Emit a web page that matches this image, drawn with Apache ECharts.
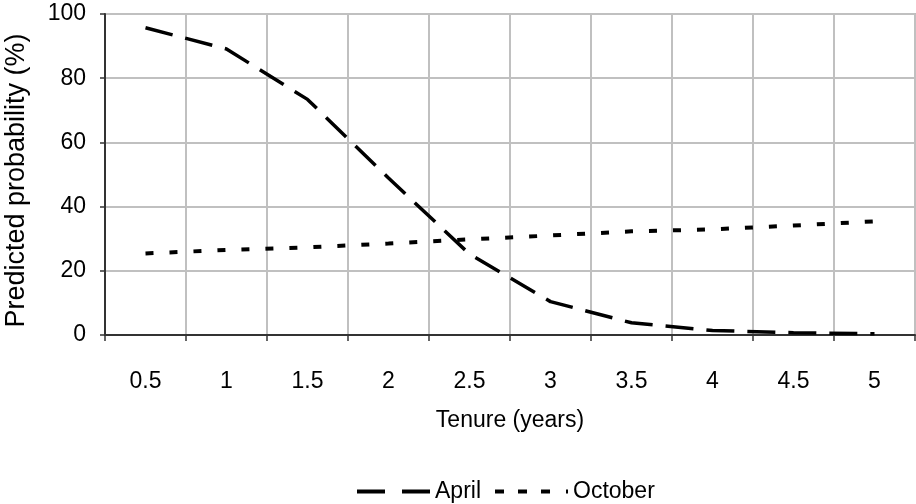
<!DOCTYPE html>
<html>
<head>
<meta charset="utf-8">
<script src="https://cdn.jsdelivr.net/npm/echarts@6/dist/echarts.min.js"></script>
<style>
  html, body { margin: 0; padding: 0; background: #fff; }
  #chart { width: 916px; height: 504px; }
</style>
</head>
<body>
<div id="chart"></div>
<script>
const tenure = ['0.5', '1', '1.5', '2', '2.5', '3', '3.5', '4', '4.5', '5'];
const april = [95.7, 89.1, 73.4, 48.9, 25.2, 10.4, 3.8, 1.4, 0.7, 0.4];
const october = [25.4, 26.5, 27.3, 28.5, 29.8, 31.0, 32.3, 32.9, 34.1, 35.4];

const font = 'Liberation Sans';
const chart = echarts.init(document.getElementById('chart'), null, { renderer: 'canvas' });

// legend keys drawn like the dashed line samples
const aprilIcon = 'path://M0,0h28v4h-28z M45,0h28v4h-28z';
const octIcon = 'path://M0,0h9v4h-9z M23,0h9v4h-9z M46,0h9v4h-9z M71,0h2v4h-2z';

chart.setOption({
  animation: false,
  backgroundColor: '#fff',
  textStyle: { fontFamily: font, color: '#000' },
  grid: {
    left: 105, right: 1, top: 14, bottom: 169,
    containLabel: false,
    outerBoundsMode: 'none',
    show: true,
    borderColor: '#888',
    borderWidth: 1.5
  },
  legend: {
    left: 352,
    top: 475,
    itemWidth: 73,
    itemHeight: 4,
    itemGap: 14,
    textStyle: { fontFamily: font, fontSize: 23, color: '#000' },
    data: [
      { name: 'April', icon: aprilIcon },
      { name: 'October', icon: octIcon }
    ]
  },
  xAxis: {
    type: 'category',
    data: tenure,
    boundaryGap: true,
    name: 'Tenure (years)',
    nameLocation: 'middle',
    nameGap: 74,
    nameTextStyle: { fontFamily: font, fontSize: 23, color: '#000' },
    axisLine: { lineStyle: { color: '#333', width: 2 } },
    axisTick: { show: true, length: 6, inside: false, lineStyle: { color: '#333', width: 1.5 } },
    axisLabel: { fontFamily: font, fontSize: 23, color: '#000', margin: 35, interval: 0 },
    splitLine: { show: true, interval: 0, lineStyle: { color: '#c0c0c0', width: 2 } }
  },
  yAxis: {
    type: 'value',
    min: 0,
    max: 100,
    interval: 20,
    name: 'Predicted probability (%)',
    nameLocation: 'middle',
    nameGap: 75,
    nameTextStyle: { fontFamily: font, fontSize: 27, color: '#000', padding: [0, 12, 0, 0] },
    axisLine: { show: true, lineStyle: { color: '#333', width: 2 } },
    axisTick: { show: true, length: 5, inside: false, lineStyle: { color: '#333', width: 1.5 } },
    axisLabel: { fontFamily: font, fontSize: 23, color: '#000', margin: 19 },
    splitLine: { show: true, lineStyle: { color: '#c0c0c0', width: 2 } }
  },
  series: [
    {
      name: 'April',
      type: 'line',
      data: april,
      symbol: 'none',
      smooth: false,
      color: '#000',
      lineStyle: { color: '#000', width: 3.5, type: [28, 13], cap: 'butt' }
    },
    {
      name: 'October',
      type: 'line',
      data: october,
      symbol: 'none',
      smooth: false,
      color: '#000',
      lineStyle: { color: '#000', width: 4, type: [8, 16], cap: 'butt' }
    }
  ]
});
</script>
</body>
</html>
